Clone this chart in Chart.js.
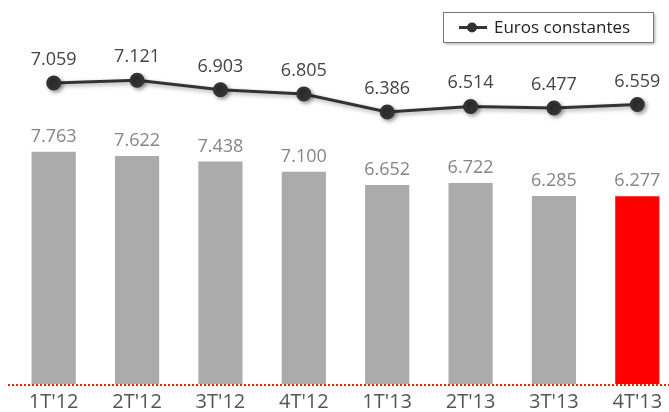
<!DOCTYPE html>
<html>
<head>
<meta charset="utf-8">
<script src="https://cdn.jsdelivr.net/npm/chart.js@4/dist/chart.umd.min.js"></script>
<style>
  html, body { margin: 0; padding: 0; background: #fff; overflow: hidden; }
  #wrap { width: 700px; height: 412px; }
</style>
</head>
<body>
<div id="wrap"><canvas id="chart" width="700" height="412"></canvas></div>
<script>
// quarters and values
const quarters = ["1T'12", "2T'12", "3T'12", "4T'12", "1T'13", "2T'13", "3T'13", "4T'13"];
const current = [7.763, 7.622, 7.438, 7.100, 6.652, 6.722, 6.285, 6.277];
const constant = [7.059, 7.121, 6.903, 6.805, 6.386, 6.514, 6.477, 6.559];
const barColors = ['#ababab', '#ababab', '#ababab', '#ababab', '#ababab', '#ababab', '#ababab', '#ff0000'];
const legendText = 'Euros constantes';

const fmt = v => v.toFixed(3);

// value labels above bars and points
const valueLabels = {
    id: 'valueLabels',
    afterDatasetsDraw(chart) {
        const ctx = chart.ctx;
        ctx.save();
        ctx.font = '18px "Open Sans"';
        ctx.textAlign = 'center';
        ctx.textBaseline = 'alphabetic';
        chart.getDatasetMeta(1).data.forEach((bar, i) => {
            ctx.fillStyle = '#858585';
            ctx.fillText(fmt(current[i]), bar.x, bar.y - 10);
        });
        chart.getDatasetMeta(0).data.forEach((pt, i) => {
            ctx.fillStyle = '#444';
            ctx.fillText(fmt(constant[i]), pt.x, pt.y - 18);
        });
        ctx.restore();
    }
};

// red dotted baseline across the whole width
const baseline = {
    id: 'baseline',
    afterDatasetsDraw(chart) {
        const ctx = chart.ctx;
        const y0 = chart.scales.y.getPixelForValue(0);
        ctx.save();
        ctx.strokeStyle = '#e02020';
        ctx.lineWidth = 2;
        ctx.setLineDash([2, 2]);
        ctx.beginPath();
        ctx.moveTo(8, y0 + 1);
        ctx.lineTo(669, y0 + 1);
        ctx.stroke();
        ctx.restore();
    }
};

// boxed legend at the top right
const boxLegend = {
    id: 'boxLegend',
    afterDraw(chart) {
        const ctx = chart.ctx;
        ctx.save();
        ctx.shadowColor = 'rgba(0,0,0,0.35)';
        ctx.shadowBlur = 3;
        ctx.shadowOffsetX = 2;
        ctx.shadowOffsetY = 2;
        ctx.fillStyle = '#fff';
        ctx.fillRect(443, 12, 210, 30);
        ctx.shadowColor = 'transparent';
        ctx.strokeStyle = '#777';
        ctx.lineWidth = 1;
        ctx.strokeRect(443.5, 12.5, 210, 30);
        ctx.strokeStyle = '#333';
        ctx.lineWidth = 3;
        ctx.beginPath();
        ctx.moveTo(459, 27.5);
        ctx.lineTo(487, 27.5);
        ctx.stroke();
        ctx.fillStyle = '#333';
        ctx.beginPath();
        ctx.arc(472, 27.5, 5, 0, Math.PI * 2);
        ctx.fill();
        ctx.fillStyle = '#222';
        ctx.font = '17px "Open Sans"';
        ctx.textBaseline = 'middle';
        ctx.fillText(legendText, 494, 28);
        ctx.restore();
    }
};

// soft shadow under the line
const lineShadow = {
    id: 'lineShadow',
    beforeDatasetDraw(chart, args) {
        if (args.index === 0) {
            chart.ctx.save();
            chart.ctx.shadowColor = 'rgba(0,0,0,0.35)';
            chart.ctx.shadowBlur = 4;
            chart.ctx.shadowOffsetX = 2;
            chart.ctx.shadowOffsetY = 2;
        }
    },
    afterDatasetDraw(chart, args) {
        if (args.index === 0) chart.ctx.restore();
    }
};

new Chart(document.getElementById('chart'), {
    data: {
        labels: quarters,
        datasets: [
            {
                type: 'line',
                label: legendText,
                data: constant,
                yAxisID: 'y2',
                borderColor: '#333',
                borderWidth: 3,
                pointRadius: 6,
                pointBackgroundColor: '#333',
                pointBorderColor: '#333',
                tension: 0,
                order: 0
            },
            {
                type: 'bar',
                label: 'Euros corrientes',
                data: current,
                yAxisID: 'y',
                backgroundColor: barColors,
                barPercentage: 0.53,
                categoryPercentage: 1,
                order: 1
            }
        ]
    },
    options: {
        responsive: false,
        animation: false,
        layout: { padding: { left: 12, right: 21, top: 50, bottom: 0 } },
        plugins: {
            legend: { display: false },
            tooltip: { enabled: false }
        },
        scales: {
            x: {
                offset: true,
                grid: { display: false, drawTicks: false },
                border: { display: false },
                ticks: { color: '#555', font: { family: 'Open Sans', size: 20, lineHeight: 1 }, padding: 8 },
                afterFit(scale) { scale.height = 28; }
            },
            y: {
                display: false,
                min: 0,
                max: 11.17
            },
            y2: {
                display: false,
                min: 0.074,
                max: 7.824
            }
        }
    },
    plugins: [valueLabels, baseline, boxLegend, lineShadow]
});
</script>
</body>
</html>
